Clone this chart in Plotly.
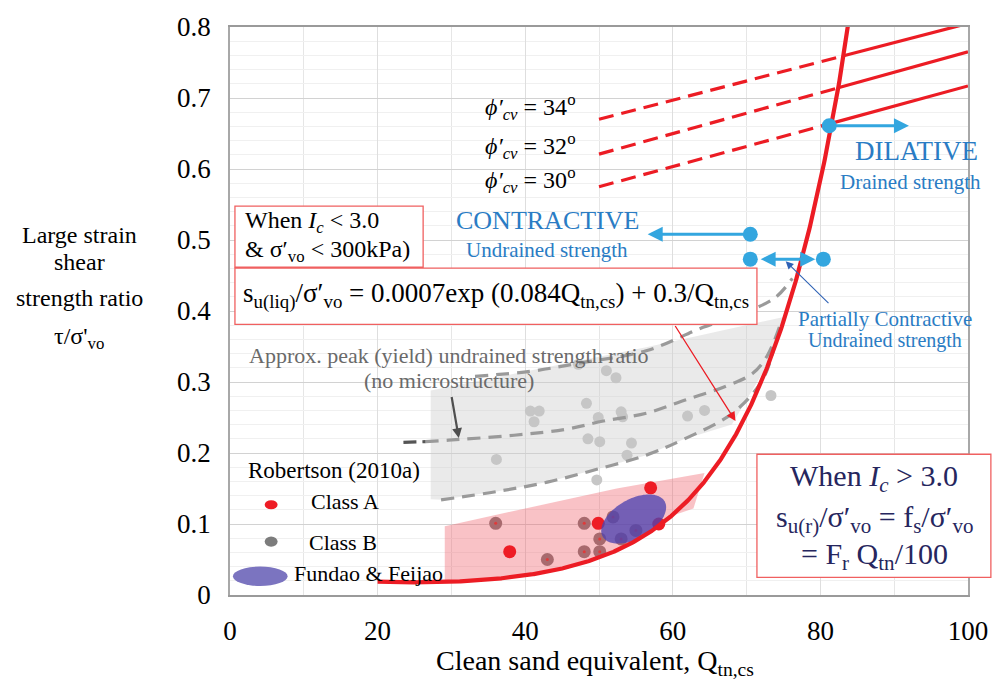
import numpy as np
import plotly.graph_objects as go

FONT = "Liberation Serif"
BLUE_TXT = "#2a7cc4"
BLUE_MK = "#33a6df"
RED = "#ec1c24"

# Case histories, Robertson (2010a)
class_a_q = [37.9, 49.9, 57.0, 58.1]
class_a_y = [0.061, 0.101, 0.151, 0.100]
class_b_q = [36.0, 43.0, 48.0, 50.1, 48.0, 50.1, 51.9, 53.0, 55.0]
class_b_y = [0.101, 0.050, 0.101, 0.079, 0.061, 0.061, 0.110, 0.079, 0.091]

# Peak (yield) undrained strength ratios
peak_q = [47.2, 51.0, 52.3, 48.3, 40.7, 41.9, 41.2, 49.9, 53.0, 53.2,
          62.0, 64.3, 48.5, 50.1, 54.4, 53.8, 36.1, 73.3, 49.7]
peak_y = [0.325, 0.316, 0.306, 0.270, 0.259, 0.259, 0.244, 0.250, 0.258, 0.251,
          0.252, 0.260, 0.220, 0.216, 0.214, 0.197, 0.191, 0.281, 0.162]

# Approximate peak strength ratio trends (dashed)
upper_q = [33.2, 40.7, 47.0, 56.4, 64.1, 69.8, 73.9, 76.2]
upper_y = [0.308, 0.315, 0.326, 0.344, 0.377, 0.398, 0.419, 0.446]
mid_q = [26.5, 29.6, 38.5, 45.3, 50.6, 56.4, 61.8, 67.2, 70.8, 72.8, 74.5]
mid_y = [0.216, 0.218, 0.225, 0.233, 0.245, 0.256, 0.275, 0.294, 0.312, 0.337, 0.379]
mid_start_q = [23.5, 26.5]
mid_start_y = [0.215, 0.216]
low_q = [28.6, 36.3, 43.0, 49.7, 56.4, 61.4, 68.1, 72.1, 73.6]
low_y = [0.134, 0.146, 0.159, 0.177, 0.197, 0.219, 0.256, 0.302, 0.344]

# Shaded zones
peak_zone_q = [27.2, 27.2, 56.4, 75.2, 74.0, 72.0, 68.0, 61.4, 56.4, 49.7, 43.0, 36.3, 28.6]
peak_zone_y = [0.135, 0.288, 0.349, 0.392, 0.350, 0.310, 0.240, 0.219, 0.197, 0.177, 0.159, 0.146, 0.134]
case_zone_q = [29.1, 52.4, 64.3, 62.8, 60.0, 55.0, 50.0, 45.0, 40.0, 35.0, 29.1]
case_zone_y = [0.097, 0.150, 0.172, 0.122, 0.112, 0.077, 0.053, 0.037, 0.028, 0.022, 0.017]

# Fundao & Feijao zone: centre, semi-axes (px) and tilt (deg)
ff_center_q, ff_center_y = 54.7, 0.107
ff_semi_a, ff_semi_b, ff_tilt = 36, 20, 30

# Constant-volume friction angle lines
phi_labels = ["34", "32", "30"]
phi_q = [50.0, 100.0]
phi_y = [[0.670, 0.805], [0.621, 0.765], [0.575, 0.717]]

# Behaviour boundary markers
state_q = [81.2, 70.5, 70.5, 80.4]
state_y = [0.661, 0.508, 0.473, 0.473]

x_ticks = [0, 20, 40, 60, 80, 100]
y_ticks = [0, 0.1, 0.2, 0.3, 0.4, 0.5, 0.6, 0.7, 0.8]
x_range = [0, 100]
y_range = [0, 0.8]

W, H = 1000, 683
M = dict(l=230, r=25, t=18, b=88)
px_per_q = (W - M["l"] - M["r"]) / (x_range[1] - x_range[0])
px_per_y = (H - M["t"] - M["b"]) / (y_range[1] - y_range[0])


def su_liq(q):
    return 0.0007 * np.exp(0.084 * q) + 0.3 / q


q_curve = np.linspace(20, 86, 600)
y_curve = su_liq(q_curve)

fig = go.Figure()

# peak strength zone
fig.add_trace(go.Scatter(x=peak_zone_q, y=peak_zone_y, fill="toself", mode="none",
                         fillcolor="rgba(205,205,205,0.42)", hoverinfo="skip"))
fig.add_trace(go.Scatter(x=peak_q, y=peak_y, mode="markers",
                         marker=dict(size=11, color="#c6c6c6")))
fig.add_trace(go.Scatter(x=class_b_q, y=class_b_y, mode="markers",
                         marker=dict(size=13, color="#7c7272")))
# case history zone
fig.add_trace(go.Scatter(x=case_zone_q, y=case_zone_y, fill="toself", mode="none",
                         fillcolor="rgba(240,95,105,0.38)", hoverinfo="skip"))
fig.add_trace(go.Scatter(x=class_b_q, y=class_b_y, mode="markers",
                         marker=dict(size=3, color="#e03a3a")))

for qq, yy in [(upper_q, upper_y), (mid_q, mid_y), (low_q, low_y)]:
    fig.add_trace(go.Scatter(x=qq, y=yy, mode="lines", line_shape="spline",
                             line=dict(color="#9a9a9a", width=3.2, dash="13px,8px")))
fig.add_trace(go.Scatter(x=mid_start_q, y=mid_start_y, mode="lines",
                         line=dict(color="#555555", width=3.2, dash="13px,6px")))

fig.add_trace(go.Scatter(x=class_a_q, y=class_a_y, mode="markers",
                         marker=dict(size=13, color="#ee1c25")))

# Fundao & Feijao ellipse
t = np.linspace(0, 2 * np.pi, 120)
th = np.radians(ff_tilt)
dx = ff_semi_a * np.cos(t) * np.cos(th) - ff_semi_b * np.sin(t) * np.sin(th)
dy = ff_semi_a * np.cos(t) * np.sin(th) + ff_semi_b * np.sin(t) * np.cos(th)
fig.add_trace(go.Scatter(x=ff_center_q + dx / px_per_q, y=ff_center_y + dy / px_per_y,
                         fill="toself", mode="none", fillcolor="rgba(78,66,176,0.78)"))

fig.add_trace(go.Scatter(x=q_curve, y=y_curve, mode="lines",
                         line=dict(color=RED, width=4.2)))

# friction angle lines: dashed left of the curve, solid right of it
q_fine = np.linspace(phi_q[0], phi_q[1], 5001)
for ys in phi_y:
    line_y = np.interp(q_fine, phi_q, ys)
    q_int = q_fine[np.argmax(su_liq(q_fine) >= line_y)]
    y_int = float(np.interp(q_int, phi_q, ys))
    fig.add_trace(go.Scatter(x=[phi_q[0], q_int], y=[ys[0], y_int], mode="lines",
                             line=dict(color=RED, width=3.2, dash="15px,8px")))
    fig.add_trace(go.Scatter(x=[q_int, phi_q[1]], y=[y_int, ys[1]], mode="lines",
                             line=dict(color=RED, width=3.2)))

fig.add_trace(go.Scatter(x=state_q, y=state_y, mode="markers",
                         marker=dict(size=15, color=BLUE_MK)))

ann = []


def txt(x, y, s, size, color="black", xanchor="center", ref="data", align="center"):
    d = dict(x=x, y=y, text=s, showarrow=False, xanchor=xanchor, yanchor="middle",
             align=align, font=dict(family=FONT, size=size, color=color))
    if ref == "paper":
        d.update(xref="paper", yref="paper")
    else:
        d.update(xref="x", yref="y")
    ann.append(d)


def arrow(x, y, ax, ay, color, width, head=2, size=1.0, side="end"):
    ann.append(dict(x=x, y=y, ax=ax, ay=ay, xref="x", yref="y", axref="x", ayref="y",
                    text="", showarrow=True, arrowhead=head, arrowsize=size,
                    arrowwidth=width, arrowcolor=color, arrowside=side,
                    standoff=0, startstandoff=0))


for lab, ys in zip(phi_labels, [0.687, 0.632, 0.585]):
    txt(47.2, ys, "<i>ϕ′</i><sub><i>cv</i></sub> = " + lab + "<sup>o</sup>", 24, xanchor="right")

txt(93.0, 0.626, "DILATIVE", 27, BLUE_TXT)
txt(92.2, 0.581, "Drained strength", 21, BLUE_TXT)
txt(43.0, 0.527, "CONTRACTIVE", 26, BLUE_TXT)
txt(42.9, 0.486, "Undrained strength", 21, BLUE_TXT)
txt(88.7, 0.389, "Partially Contractive", 21, BLUE_TXT)
txt(88.7, 0.358, "Undrained strength", 20, BLUE_TXT)

txt(29.7, 0.338, "Approx. peak (yield) undrained strength ratio", 22, "#6a6a6a")
txt(29.7, 0.302, "(no microstructure)", 22, "#6a6a6a")

arrow(92.0, 0.661, 81.2, 0.661, BLUE_MK, 3)
arrow(56.6, 0.508, 70.5, 0.508, BLUE_MK, 3)
arrow(79.3, 0.473, 71.7, 0.473, BLUE_MK, 3, side="end+start")
arrow(75.3, 0.470, 81.3, 0.409, "#2f62b5", 1.1, head=2, size=1.4)
arrow(68.5, 0.245, 60.2, 0.381, RED, 1.3, head=2, size=1.4)
arrow(31.0, 0.221, 30.0, 0.281, "#4f4f4f", 2.2, head=2, size=0.9)

# legend
txt(2.1, 0.175, "Robertson (2010a)", 23, xanchor="left")
txt(10.7, 0.131, "Class A", 22, xanchor="left")
txt(10.4, 0.074, "Class B", 22, xanchor="left")
txt(8.4, 0.030, "Fundao &amp; Feijao", 22, xanchor="left")

# boxed notes
txt(0.0175, 0.657, "When <i>I</i><sub><i>c</i></sub> &lt; 3.0", 24, xanchor="left", ref="paper")
txt(0.0175, 0.605, "&amp; σ′<sub>vo</sub> &lt; 300kPa)", 24, xanchor="left", ref="paper")
txt(0.361, 0.528,
    "s<sub>u(liq)</sub>/σ′<sub>vo</sub> = 0.0007exp (0.084Q<sub>tn,cs</sub>) + 0.3/Q<sub>tn,cs</sub>",
    27, ref="paper")
txt(0.873, 0.206, "When <i>I</i><sub><i>c</i></sub> &gt; 3.0", 30, "#26265e", ref="paper")
txt(0.873, 0.134, "s<sub>u(r)</sub>/σ′<sub>vo</sub> = f<sub>s</sub>/σ′<sub>vo</sub>", 30, "#26265e", ref="paper")
txt(0.873, 0.068, "= F<sub>r</sub> Q<sub>tn</sub>/100", 30, "#26265e", ref="paper")

# axis titles
txt(0.494, -0.118, "Clean sand equivalent, Q<sub>tn,cs</sub>", 28, ref="paper")
for s, yy in [("Large strain", 0.634), ("shear", 0.587), ("strength ratio", 0.523),
              ("τ/σ'<sub>vo</sub>", 0.453)]:
    txt(-0.204, yy, s, 24, ref="paper")

shapes = [
    dict(type="rect", xref="paper", yref="paper", x0=0.0067, x1=0.2617, y0=0.577, y1=0.6846,
         line=dict(color="#f06060", width=1.3), fillcolor="white", layer="above"),
    dict(type="rect", xref="paper", yref="paper", x0=0.0067, x1=0.714, y0=0.4766, y1=0.5754,
         line=dict(color="#f06060", width=1.3), fillcolor="white", layer="above"),
    dict(type="rect", xref="paper", yref="paper", x0=0.714, x1=1.031, y0=0.0312, y1=0.2478,
         line=dict(color="#f06060", width=1.3), fillcolor="white", layer="above"),
    # legend symbols
    dict(type="circle", xref="paper", yref="paper", x0=0.0470, x1=0.0645,
         y0=0.151, y1=0.167, line=dict(width=0), fillcolor="#ee1c25", layer="above"),
    dict(type="circle", xref="paper", yref="paper", x0=0.0470, x1=0.0645,
         y0=0.085, y1=0.103, line=dict(width=0), fillcolor="#7c7c7c", layer="above"),
    dict(type="circle", xref="paper", yref="paper", x0=0.004, x1=0.078,
         y0=0.016, y1=0.050, line=dict(width=0), fillcolor="#7b74c0", layer="above"),
]

fig.update_layout(
    width=W, height=H, margin=M, showlegend=False,
    paper_bgcolor="white", plot_bgcolor="white",
    annotations=ann, shapes=shapes,
    xaxis=dict(range=x_range, tickvals=x_ticks, showline=True, mirror=True,
               linecolor="#9a9a9a", linewidth=2, ticks="", zeroline=False,
               tickfont=dict(family=FONT, size=27, color="black"), ticklabelstandoff=11,
               showgrid=True, gridcolor="#dedede", gridwidth=1,
               minor=dict(dtick=10, showgrid=True, gridcolor="#e6e6e6")),
    yaxis=dict(range=y_range, tickvals=y_ticks, showline=True, mirror=True,
               linecolor="#a8a8a8", linewidth=1.5, ticks="", zeroline=False,
               tickfont=dict(family=FONT, size=27, color="black"), ticklabelstandoff=12,
               showgrid=True, gridcolor="#d2d2d2", gridwidth=1.3,
               minor=dict(dtick=0.02, showgrid=True, gridcolor="#f0f0f0")),
)

fig.write_html("out.html")
